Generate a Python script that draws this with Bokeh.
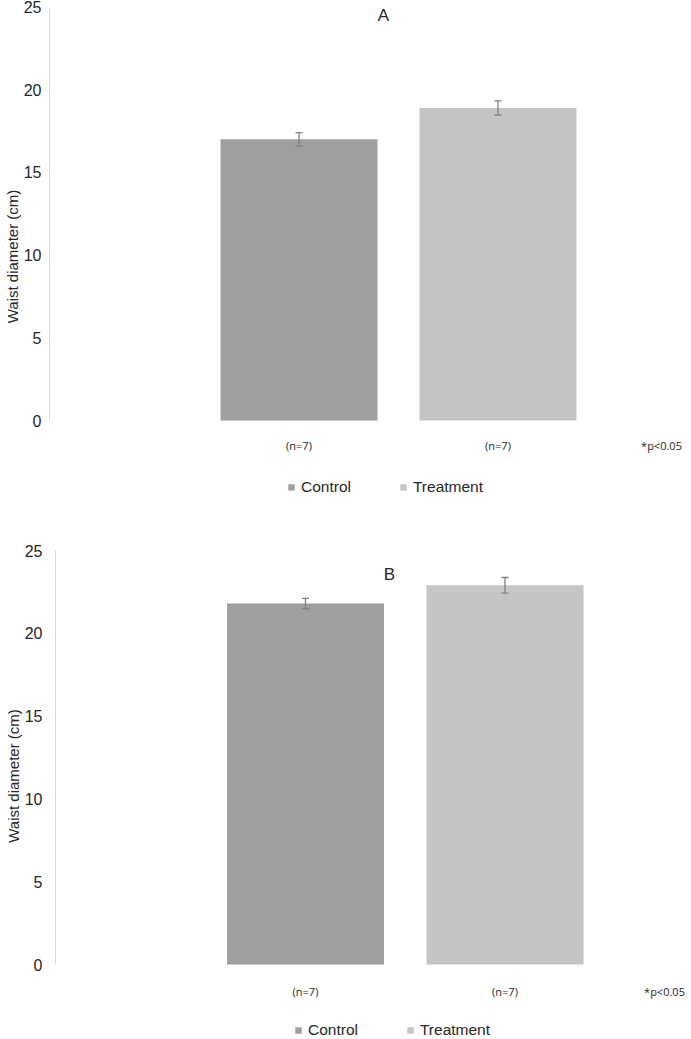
from bokeh.plotting import figure
from bokeh.models import (ColumnDataSource, Range1d, FixedTicker, Whisker, TeeHead,
                          Legend, LegendItem, Label)
from bokeh.layouts import column
from bokeh.embed import file_html
from bokeh.resources import INLINE

# ---- data ----
groups = ["Control", "Treatment"]
n_labels = ["(n=7)", "(n=7)"]
colors = ["#9f9f9f", "#c5c5c5"]
waist_A = [17.0, 18.9]
err_A = [0.41, 0.43]
waist_B = [21.8, 22.9]
err_B = [0.31, 0.47]
y_ticks = [0, 5, 10, 15, 20, 25]
panel_titles = ["A", "B"]
note = "*p<0.05"

FONT = "Liberation Sans"
FIG_W = 691


def make_panel(title, vals, errs, height, page_top, frame_left, tick_standoff,
               y25_px, y0_px, px_per_unit, first_center_px, bar_px, title_px,
               title_py, note_px, n_py, legend_x, legend_y):
    # *_px / *_py arguments are page pixel positions used for layout only
    xs = list(range(1, len(groups) + 1))
    frame_w = FIG_W - frame_left
    x_start = xs[0] - (first_center_px - frame_left) / px_per_unit
    x_end = x_start + frame_w / px_per_unit
    to_x = lambda px: x_start + (px - frame_left) / px_per_unit
    yscale = (y0_px - y25_px) / 25.0
    y_end = 25 + (y25_px - page_top) / yscale
    y_start = -(page_top + height - y0_px) / yscale
    to_y = lambda py: (y0_px - py) / yscale

    src = ColumnDataSource(dict(x=xs, top=vals, color=colors, grp=groups,
                                upper=[v + e for v, e in zip(vals, errs)],
                                lower=[v - e for v, e in zip(vals, errs)]))
    p = figure(width=FIG_W, height=height, output_backend="svg", toolbar_location=None,
               x_range=Range1d(x_start, x_end), y_range=Range1d(y_start, y_end),
               min_border_left=frame_left, min_border_right=0,
               min_border_top=0, min_border_bottom=0, frame_align=False)
    p.outline_line_color = None
    p.grid.visible = False
    p.xaxis.visible = False
    p.background_fill_color = "white"
    p.border_fill_color = "white"

    r = p.vbar(x="x", top="top", width=bar_px / px_per_unit, bottom=0, source=src,
               fill_color="color", line_color=None)
    w = Whisker(base="x", upper="upper", lower="lower", source=src,
                line_color="#7f7f7f", line_width=1.3, level="overlay",
                upper_head=TeeHead(size=7, line_color="#7f7f7f", line_width=1.3),
                lower_head=TeeHead(size=7, line_color="#7f7f7f", line_width=1.3))
    p.add_layout(w)

    # y axis
    ya = p.yaxis[0]
    ya.ticker = FixedTicker(ticks=y_ticks)
    ya.bounds = (y_ticks[0], y_ticks[-1])
    ya.axis_line_color = "#d9d9d9"
    ya.major_tick_line_color = None
    ya.minor_tick_line_color = None
    ya.major_tick_out = 0
    ya.major_tick_in = 0
    ya.minor_tick_out = 0
    ya.major_label_text_font = FONT
    ya.major_label_text_font_size = "16px"
    ya.major_label_text_color = "#262626"
    ya.major_label_standoff = tick_standoff
    ya.axis_label = "Waist diameter (cm)"
    ya.axis_label_text_font = FONT
    ya.axis_label_text_font_size = "15px"
    ya.axis_label_text_font_style = "normal"
    ya.axis_label_text_color = "#262626"
    ya.axis_label_standoff = 0

    # (n=7) under each bar
    p.text(x=xs, y=[to_y(n_py)] * len(xs), text=n_labels,
           text_font={"value": "Open Sans"}, text_font_size="11px",
           text_color="#262626", text_align="center", text_baseline="middle")
    # significance note
    p.add_layout(Label(x=to_x(note_px), y=to_y(n_py), text=note,
                       text_font="Open Sans", text_font_size="11px",
                       text_color="#262626", text_align="center",
                       text_baseline="middle"))
    # panel title
    p.add_layout(Label(x=to_x(title_px), y=to_y(title_py), text=title, text_font=FONT,
                       text_font_size="17px", text_color="#262626",
                       text_align="center", text_baseline="middle"))

    # legend (inside the frame area below the bars)
    items = [LegendItem(label=g, renderers=[r], index=i) for i, g in enumerate(groups)]
    lg = Legend(items=items, orientation="horizontal", location=(legend_x, legend_y),
                glyph_width=8, glyph_height=8, label_standoff=6, spacing=48,
                padding=0, margin=0, border_line_color=None,
                background_fill_alpha=0, label_text_font=FONT,
                label_text_font_size="15.5px", label_text_color="#262626",
                label_height=16)
    p.add_layout(lg)
    return p


pA = make_panel(panel_titles[0], waist_A, err_A, height=512, page_top=0, frame_left=49,
                tick_standoff=8, y25_px=6.5, y0_px=420, px_per_unit=199,
                first_center_px=298.5, bar_px=157, title_px=383, title_py=15,
                note_px=661, n_py=445, legend_x=238, legend_y=16)
pB = make_panel(panel_titles[1], waist_B, err_B, height=527, page_top=512, frame_left=55,
                tick_standoff=13, y25_px=550, y0_px=964, px_per_unit=199.5,
                first_center_px=305, bar_px=157, title_px=389, title_py=574,
                note_px=664, n_py=991, legend_x=239, legend_y=0)

layout = column(pA, pB, spacing=0)
open("out.html", "w").write(file_html(layout, INLINE))
